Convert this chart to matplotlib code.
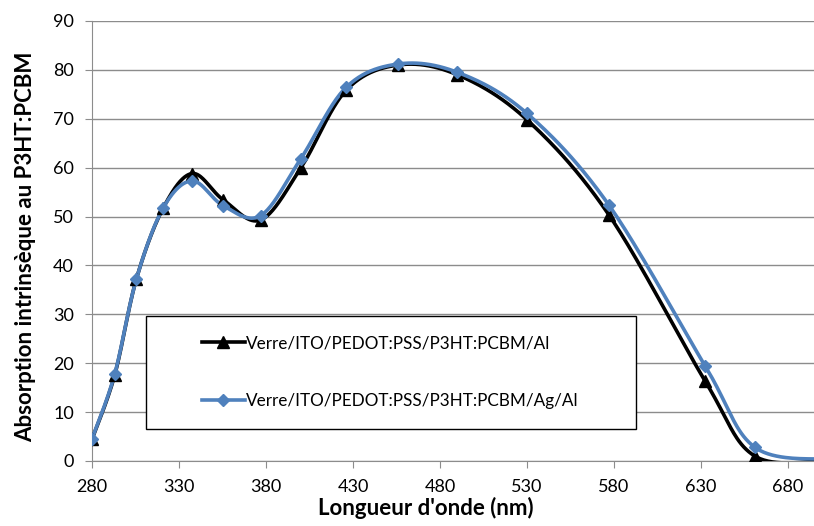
import numpy as np
import matplotlib.pyplot as plt
from matplotlib.patches import Rectangle

plt.rcParams['font.family'] = ['Lato', 'DejaVu Sans']

# longueurs d'onde (nm) et absorption
wl = [280, 293, 305.5, 321, 337.6, 355.5, 377, 400, 426, 456, 490, 530, 577, 632.5, 661, 705]
abs_al = [4.4, 17.5, 37.2, 51.8, 58.8, 53.4, 49.3, 59.9, 75.8, 81.0, 79.0, 69.8, 50.4, 16.3, 1.0, 0.2]
abs_agal = [4.5, 17.7, 37.2, 51.8, 57.3, 52.2, 50.2, 61.8, 76.4, 81.2, 79.5, 71.1, 52.4, 19.4, 2.8, 0.3]

labels = ['Verre/ITO/PEDOT:PSS/P3HT:PCBM/Al', 'Verre/ITO/PEDOT:PSS/P3HT:PCBM/Ag/Al']


def lissage(x, y, n=40):
    # courbe lissée facon Excel (Bezier / Catmull-Rom)
    p = np.column_stack([x, y]).astype(float)
    pts = [p[0]]
    for i in range(len(p) - 1):
        p0 = p[i - 1] if i > 0 else p[i]
        p1, p2 = p[i], p[i + 1]
        p3 = p[i + 2] if i + 2 < len(p) else p[i + 1]
        c1 = p1 + (p2 - p0) / 6
        c2 = p2 - (p3 - p1) / 6
        t = np.linspace(0, 1, n)[1:, None]
        seg = (1 - t) ** 3 * p1 + 3 * (1 - t) ** 2 * t * c1 + 3 * (1 - t) * t ** 2 * c2 + t ** 3 * p2
        pts.extend(seg)
    pts = np.array(pts)
    return pts[:, 0], pts[:, 1]


fig = plt.figure(figsize=(8.14, 5.26), dpi=100)
ax = fig.add_axes([0.113, 0.1236, 0.887, 0.8365])

for y, c, m, ms, lab in [(abs_al, 'black', '^', 8, labels[0]), (abs_agal, '#4F81BD', 'D', 6.5, labels[1])]:
    xs, ys = lissage(wl, y)
    ax.plot(xs, ys, color=c, lw=2.6, zorder=3)
    ax.plot(wl, y, ls='none', marker=m, ms=ms, color=c, zorder=4)
    ax.plot([], [], color=c, lw=2.6, marker=m, ms=ms, label=lab)

ax.set_xlim(280, 695)
ax.set_ylim(0, 90)
ax.set_xticks(np.arange(280, 681, 50))
ax.set_yticks(np.arange(0, 91, 10))
ax.grid(axis='y', color='#8c8c8c', lw=1)
ax.set_axisbelow(True)
for s in ['top', 'right']:
    ax.spines[s].set_visible(False)
for s in ['left', 'bottom']:
    ax.spines[s].set_color('#8c8c8c')
ax.tick_params(length=5, color='#8c8c8c', labelsize=13, pad=8)

ax.set_xlabel("Longueur d'onde (nm)", fontsize=16, fontweight='bold')
ax.set_ylabel('Absorption intrinsèque au P3HT:PCBM', fontsize=16, fontweight='bold')
ax.xaxis.set_label_coords(0.463, -0.082)
ax.yaxis.set_label_coords(-0.077, 0.487)

ax.add_patch(Rectangle((0.0748, 0.072), 0.679, 0.2575, transform=ax.transAxes,
                       facecolor='white', edgecolor='black', lw=1, zorder=5))
leg = ax.legend(loc='center left', bbox_to_anchor=(0.131, 0.2016), frameon=False,
                fontsize=12.3, handlelength=2.5, handletextpad=0.1, labelspacing=2.44)
leg.set_zorder(6)

fig.savefig('out.png', dpi=100)
